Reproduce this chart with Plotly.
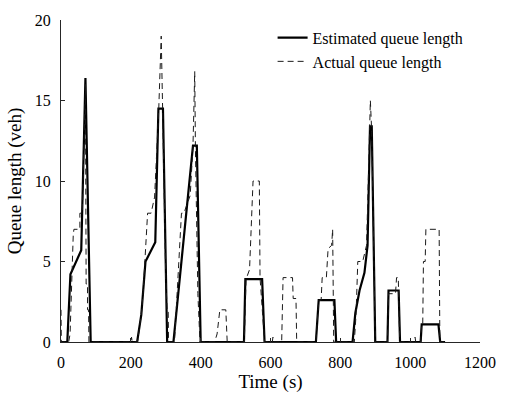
import plotly.graph_objects as go

# Estimated queue length (solid)
est_t = [0, 18, 27, 58, 70, 85, 218, 230, 242, 270, 279, 292, 304, 322, 378, 389, 400,
         524, 528, 576, 583, 730, 738, 783, 788, 835, 843, 855, 869, 878, 885, 890, 900,
         935, 938, 967, 971, 1030, 1033, 1081, 1086, 1100]
est_q = [0, 0, 4.2, 5.7, 16.4, 0, 0, 1.7, 5.0, 6.2, 14.5, 14.5, 0, 0, 12.2, 12.2, 0,
         0, 3.9, 3.9, 0, 0, 2.6, 2.6, 0, 0, 1.8, 3.2, 4.3, 6.0, 13.4, 13.4, 0,
         0, 3.2, 3.2, 0, 0, 1.1, 1.1, 0, 0]

# Actual queue length (dashed)
act_t = [0, 1, 22, 26, 35, 37, 54, 54, 61, 66, 70, 72, 76, 76, 79, 80,
         200, 202, 204,
         219, 230, 235, 248, 258, 268, 280, 287, 291, 300, 304, 307, 308,
         325, 345, 352, 360, 370, 378, 383, 385, 392, 398,
         440, 447, 455, 472, 476,
         525, 530, 540, 545, 550, 568, 570, 583,
         605, 607, 609,
         632, 636, 663, 665, 673, 675,
         730, 738, 745, 748, 760, 765, 775, 778, 781,
         840, 845, 850, 864, 875, 880, 886, 890, 900,
         935, 938, 958, 961, 966, 970,
         1012, 1014, 1016,
         1030, 1033, 1036, 1038, 1043, 1045, 1083, 1085, 1100]
act_q = [2, 0, 0, 0.5, 6.6, 7, 7, 8, 8, 12, 16, 3.6, 3.6, 2, 2, 0,
         0, 0.3, 0,
         0, 1.7, 3, 8, 8, 9, 14.5, 19, 14.5, 4, 2, 2, 0,
         0, 8, 8, 8.5, 9.1, 12.2, 16.8, 12, 3, 0,
         0, 0.5, 2, 2, 0,
         0, 3.9, 4.5, 8, 10, 10, 4, 0,
         0, 0.3, 0,
         0, 4, 4, 2.7, 2.7, 0,
         0, 2.6, 2.6, 4, 4, 5.8, 6, 7, 0,
         0, 1.7, 5, 5, 6, 10, 15, 13, 0,
         0, 3, 3, 4, 4, 0,
         0, 0.3, 0,
         0, 1.1, 1.1, 5, 5, 7, 7, 0, 0]

x_ticks = [0, 200, 400, 600, 800, 1000, 1200]
y_ticks = [0, 5, 10, 15, 20]

font = "Liberation Serif"

fig = go.Figure()
fig.add_trace(go.Scatter(x=est_t, y=est_q, mode="lines", name="Estimated queue length",
                         line=dict(color="black", width=2.2)))
fig.add_trace(go.Scatter(x=act_t, y=act_q, mode="lines", name="Actual queue length",
                         line=dict(color="#1a1a1a", width=1, dash="6px,4px")))

axis_common = dict(showgrid=False, zeroline=False, showline=True, linecolor="#262626",
                   linewidth=1, ticks="inside", ticklen=4, tickcolor="#262626",
                   tickfont=dict(family=font, size=16, color="black"))

fig.update_layout(
    width=508, height=401,
    margin=dict(l=61, r=27, t=16, b=59),
    paper_bgcolor="white", plot_bgcolor="white",
    font=dict(family=font, color="black"),
    showlegend=True,
    legend=dict(x=0.505, y=0.998, xanchor="left", yanchor="top",
                bgcolor="rgba(0,0,0,0)", font=dict(family=font, size=16),
                itemwidth=30, tracegroupgap=0),
    xaxis=dict(range=[0, 1200], tickvals=x_ticks,
               title=dict(text="Time (s)", font=dict(family=font, size=19), standoff=4),
               ticklabelstandoff=6, **axis_common),
    yaxis=dict(range=[0, 20], tickvals=y_ticks,
               title=dict(text="Queue length (veh)", font=dict(family=font, size=19), standoff=8),
               ticklabelstandoff=6, **axis_common),
)

fig.write_html("out.html")
